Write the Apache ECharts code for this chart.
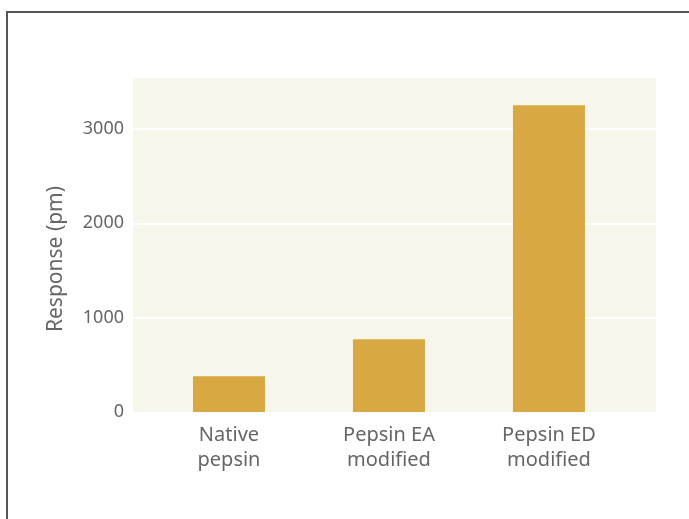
<!DOCTYPE html>
<html>
<head>
<meta charset="utf-8">
<script src="https://cdn.jsdelivr.net/npm/echarts@6/dist/echarts.min.js"></script>
<style>
  html, body { margin: 0; padding: 0; background: #fff; }
  #chart { width: 689px; height: 519px; }
  #frame {
    position: absolute;
    left: 6px;
    top: 11px;
    right: 0;
    bottom: 0;
    border-top: 2px solid #555;
    border-left: 2px solid #555;
    pointer-events: none;
  }
</style>
</head>
<body>
<div id="chart"></div>
<div id="frame"></div>
<script>
const categories = ['Native\npepsin', 'Pepsin EA\nmodified', 'Pepsin ED\nmodified']
const positions = [1, 2, 3]
const responses = [380, 770, 3250]
const yTicks = [0, 1000, 2000, 3000]

const chart = echarts.init(document.getElementById('chart'))

const textColor = '#666666'
const font = 'Noto Sans'

const option = {
  animation: false,
  grid: {
    left: 133,
    right: 33,
    top: 78,
    bottom: 107,
    show: true,
    backgroundColor: '#F7F6EB',
    borderWidth: 0,
  },
  xAxis: {
    type: 'value',
    min: 0.4,
    max: 3.669,
    axisLine: { show: false },
    axisTick: { show: false },
    splitLine: { show: false },
    axisLabel: {
      customValues: positions,
      formatter: (v) => categories[positions.indexOf(v)],
      color: textColor,
      fontFamily: font,
      fontSize: 20,
      lineHeight: 25,
      margin: 11,
    },
  },
  yAxis: {
    type: 'value',
    min: 0,
    max: 3540,
    interval: 1000,
    name: 'Response (pm)',
    nameLocation: 'middle',
    nameGap: 66,
    nameTextStyle: {
      color: textColor,
      fontFamily: font,
      fontSize: 21,
      padding: [0, 28, 0, 0],
    },
    axisLine: { show: false },
    axisTick: { show: false },
    axisLabel: {
      customValues: yTicks,
      formatter: (v) => String(v),
      color: textColor,
      fontFamily: font,
      fontSize: 18,
      margin: 9,
    },
    splitLine: {
      show: true,
      showMinLine: false,
      showMaxLine: false,
      lineStyle: { color: '#ffffff', width: 2 },
    },
  },
  series: [
    {
      type: 'bar',
      barWidth: 72,
      data: positions.map((p, i) => [p, responses[i]]),
      itemStyle: { color: '#D8A843' },
    },
  ],
}

chart.setOption(option)
</script>
</body>
</html>
